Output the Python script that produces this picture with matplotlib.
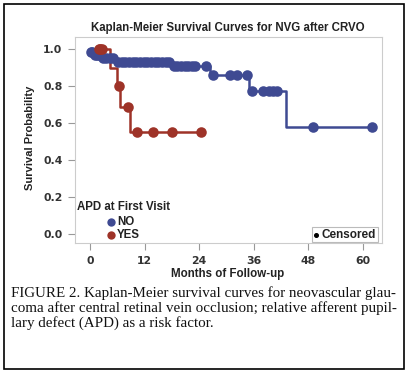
import numpy as np
import matplotlib
matplotlib.use("Agg")
import matplotlib.pyplot as plt
from matplotlib.patches import Rectangle

# APD = NO group (event times, survival after each event, censored times)
no_event_t = [0.0, 0.8, 2.2, 5.4, 17.8, 26.4, 35.0, 43.0]
no_event_s = [0.984, 0.968, 0.951, 0.932, 0.907, 0.860, 0.775, 0.578]
no_end = 62.0
no_cens_t = [0.2, 0.5, 1.0, 1.5, 2.0, 2.8, 3.6, 4.4, 5.0,
             6.2, 7.0, 7.8, 8.6, 9.4, 10.2, 11.0, 11.8, 12.6, 13.4, 14.2,
             15.0, 15.8, 16.6, 17.4, 18.4, 19.2, 20.0, 20.8, 21.6, 22.4, 23.0,
             25.6, 27.0, 30.8, 32.3, 34.5, 35.6, 38.0, 39.3, 40.3, 41.2,
             49.0, 62.0]

# APD = YES group
yes_event_t = [4.3, 5.9, 6.6, 8.8]
yes_event_s = [0.900, 0.800, 0.686, 0.549]
yes_end = 24.5
yes_cens_t = [1.9, 2.3, 2.7, 6.4, 8.4, 10.4, 13.9, 18.0, 24.5]

x_ticks = [0, 12, 24, 36, 48, 60]
y_ticks = [0.0, 0.2, 0.4, 0.6, 0.8, 1.0]

BLUE = "#3f4a92"
RED = "#9e3328"
W, H = 417, 384


def px(x, y):
    return x / W, 1 - y / H


def km_step(event_t, event_s, end):
    xs = [0.0] + list(event_t) + [end]
    ys = [1.0] + list(event_s) + [event_s[-1]]
    return np.array(xs), np.array(ys)


def surv_at(t, event_t, event_s):
    t = np.asarray(t)
    idx = np.searchsorted(event_t, t, side="right")
    levels = np.concatenate([[1.0], event_s])
    return levels[idx]


fig = plt.figure(figsize=(W / 100, H / 100), dpi=100)
fig.patches.append(Rectangle(px(4, 369), 400 / W, 365 / H, transform=fig.transFigure,
                             fill=False, edgecolor="black", linewidth=1.2))

ax = fig.add_axes([75 / W, 1 - 243 / H, 307 / W, 206 / H])

for ev_t, ev_s, end, cens, col in [(no_event_t, no_event_s, no_end, no_cens_t, BLUE),
                                   (yes_event_t, yes_event_s, yes_end, yes_cens_t, RED)]:
    xs, ys = km_step(ev_t, ev_s, end)
    ax.step(xs, ys, where="post", color=col, linewidth=1.8, zorder=2)
    ax.plot(cens, surv_at(cens, ev_t, ev_s), "o", color=col, markersize=7.6,
            markeredgewidth=0, zorder=3)

ax.set_xlim(-3.3, 64.2)
ax.set_ylim(-0.049, 1.065)
ax.set_xticks(x_ticks)
ax.set_yticks(y_ticks)
ax.set_xticklabels([str(v) for v in x_ticks], fontweight="bold", fontsize=7.8, color="#333333")
ax.set_yticklabels([f"{v:.1f}" for v in y_ticks], fontweight="bold", fontsize=7.8, color="#333333")
ax.tick_params(length=5, width=0.8, color="#999999", pad=4)
for s in ax.spines.values():
    s.set_color("#cccccc")
    s.set_linewidth(0.8)

font = "Liberation Sans"
fig.text(*px(228, 28), "Kaplan-Meier Survival Curves for NVG after CRVO", ha="center",
         va="center", fontsize=8.3, fontweight="bold", family=font, color="#222222")
fig.text(*px(30, 138), "Survival Probability", rotation=90, ha="center", va="center",
         fontsize=8, fontweight="bold", family=font, color="#222222")
fig.text(*px(228, 274), "Months of Follow-up", ha="center", va="center",
         fontsize=8.3, fontweight="bold", family=font, color="#222222")

# group legend
fig.text(*px(77, 207), "APD at First Visit", ha="left", va="center",
         fontsize=8.3, fontweight="bold", family=font, color="#222222")
for yy, lab, col in [(222, "NO", BLUE), (235, "YES", RED)]:
    fig.lines.append(plt.Line2D([111 / W], [1 - yy / H], marker="o", color=col,
                                markersize=6, markeredgewidth=0, transform=fig.transFigure))
    fig.text(*px(117, yy), lab, ha="left", va="center", fontsize=8.3,
             fontweight="bold", family=font, color="#222222")

# censored legend box
fig.patches.append(Rectangle(px(312, 242), 66 / W, 15 / H, transform=fig.transFigure,
                             facecolor="white", edgecolor="#bbbbbb", linewidth=0.8))
fig.lines.append(plt.Line2D([316 / W], [1 - 235 / H], marker="o", color="black",
                            markersize=2.6, transform=fig.transFigure))
fig.text(*px(321, 235), "Censored", ha="left", va="center", fontsize=8.5,
         fontweight="bold", family=font, color="#222222")

caption = ["FIGURE 2. Kaplan-Meier survival curves for neovascular glau-",
           "coma after central retinal vein occlusion; relative afferent pupil-",
           "lary defect (APD) as a risk factor."]
for i, line in enumerate(caption):
    fig.text(*px(11, 293 + 15 * i), line, ha="left", va="center", fontsize=10.8,
             family="Liberation Serif", color="#111111")

fig.savefig("out.png", dpi=100)
